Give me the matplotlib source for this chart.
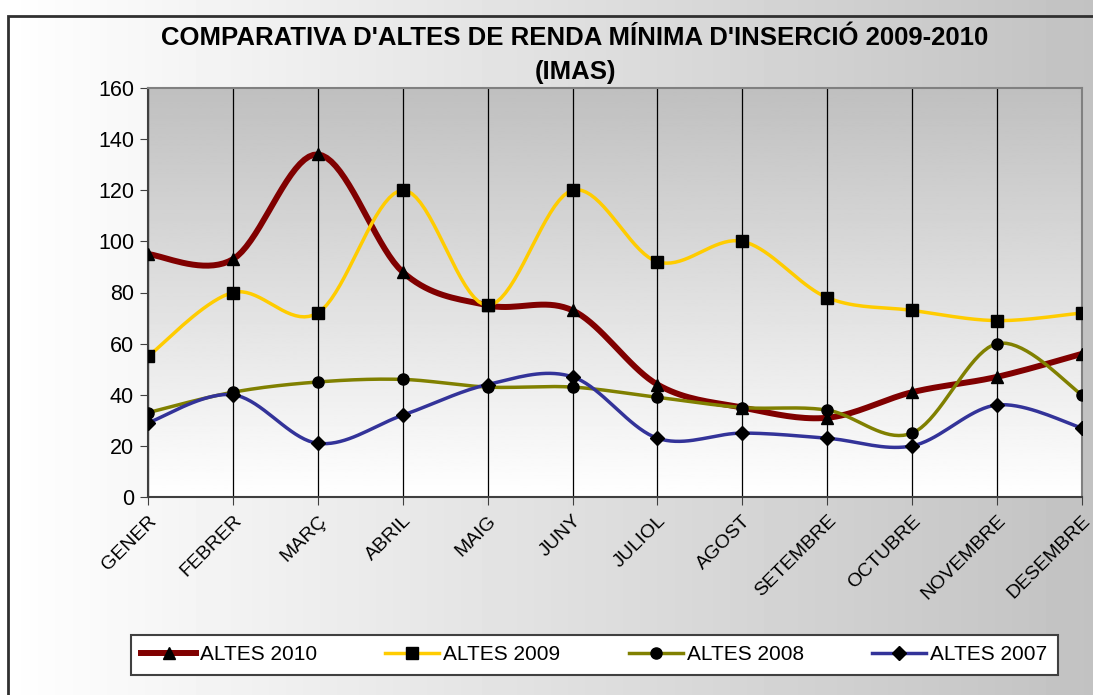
import numpy as np
import matplotlib.pyplot as plt
from matplotlib.patches import Rectangle

months = ['GENER', 'FEBRER', 'MARÇ', 'ABRIL', 'MAIG', 'JUNY', 'JULIOL',
          'AGOST', 'SETEMBRE', 'OCTUBRE', 'NOVEMBRE', 'DESEMBRE']
altes_2010 = [95, 93, 134, 88, 75, 73, 44, 35, 31, 41, 47, 56]
altes_2009 = [55, 80, 72, 120, 75, 120, 92, 100, 78, 73, 69, 72]
altes_2008 = [33, 41, 45, 46, 43, 43, 39, 35, 34, 25, 60, 40]
altes_2007 = [29, 40, 21, 32, 44, 47, 23, 25, 23, 20, 36, 27]

labels = ['ALTES 2010', 'ALTES 2009', 'ALTES 2008', 'ALTES 2007']
series = [altes_2010, altes_2009, altes_2008, altes_2007]
colors = ['#800000', '#FFCC00', '#808000', '#333399']
markers = ['^', 's', 'o', 'D']
widths = [4.3, 2.5, 2.5, 2.5]
msizes = [9, 8, 8, 7]

plt.rcParams['font.family'] = ['Liberation Sans', 'DejaVu Sans']


def smooth(xs, ys, n=20):
    # catmull-rom curve through the points, like excel's smoothed line
    p = np.column_stack([xs, ys]).astype(float)
    p = np.vstack([p[0], p, p[-1]])
    out = []
    t = np.linspace(0, 1, n)
    for i in range(1, len(p) - 2):
        p0, p1, p2, p3 = p[i - 1], p[i], p[i + 1], p[i + 2]
        m1 = (p2 - p0) / 2
        m2 = (p3 - p1) / 2
        h00 = 2 * t**3 - 3 * t**2 + 1
        h10 = t**3 - 2 * t**2 + t
        h01 = -2 * t**3 + 3 * t**2
        h11 = t**3 - t**2
        seg = (h00[:, None] * p1 + h10[:, None] * m1
               + h01[:, None] * p2 + h11[:, None] * m2)
        out.append(seg if i == 1 else seg[1:])
    out = np.vstack(out)
    return out[:, 0], out[:, 1]


fig = plt.figure(figsize=(10.93, 6.95), dpi=100)

# figure background: horizontal gradient white -> gray
bg = fig.add_axes([0, 0, 1, 1], zorder=-10)
grad = np.linspace(1.0, 0.76, 256)[None, :]
bg.imshow(grad, aspect='auto', cmap='gray', vmin=0, vmax=1,
          extent=[0, 1, 0, 1])
bg.set_xlim(0, 1)
bg.set_ylim(0, 1)
bg.axis('off')
bg.add_patch(Rectangle((8 / 1093, -0.1), 1.2, 1.1 - 16 / 695, fill=False,
                       edgecolor='#303030', linewidth=2))

ax = fig.add_axes([148 / 1093, 1 - 497 / 695, (1082 - 148) / 1093,
                   (497 - 88) / 695])
x = np.arange(len(months))

# plot area: vertical gradient gray (top) -> white (bottom)
vgrad = np.linspace(0.75, 1.0, 256)[:, None]
ax.imshow(vgrad, aspect='auto', cmap='gray', vmin=0, vmax=1,
          extent=[0, len(months) - 1, 0, 160], origin='upper', zorder=0)

for xi in x:
    ax.axvline(xi, color='black', linewidth=0.9, zorder=1)

for i in range(len(series)):
    sx, sy = smooth(x, series[i])
    ax.plot(sx, sy, color=colors[i], linewidth=widths[i], zorder=2 + i * 0.1,
            solid_capstyle='round')
    ax.plot(x, series[i], linestyle='none', marker=markers[i],
            markersize=msizes[i], color='black', zorder=3)
    # legend proxy
    ax.plot([], [], color=colors[i], linewidth=widths[i], marker=markers[i],
            markersize=msizes[i], markerfacecolor='black',
            markeredgecolor='black', label=labels[i])

ax.set_xlim(0, len(months) - 1)
ax.set_ylim(0, 160)
ax.set_yticks(range(0, 161, 20))
ax.set_xticks(x)
ax.set_xticklabels(months, rotation=45, ha='right', rotation_mode='anchor',
                   fontsize=14)
ax.tick_params(axis='y', labelsize=15.5, length=6, color='#404040', pad=4)
ax.tick_params(axis='x', length=6, color='#404040', pad=5)
for s in ['left', 'bottom']:
    ax.spines[s].set_color('#404040')
    ax.spines[s].set_linewidth(1.5)
for s in ['top', 'right']:
    ax.spines[s].set_color('#808080')
    ax.spines[s].set_linewidth(1.5)

fig.text(575 / 1093, 1 - 38 / 695,
         "COMPARATIVA D'ALTES DE RENDA MÍNIMA D'INSERCIÓ 2009-2010",
         ha='center', va='center', fontsize=18.5, fontweight='bold')
fig.text(575 / 1093, 1 - 72 / 695, '(IMAS)', ha='center', va='center',
         fontsize=18.5, fontweight='bold')

leg = fig.legend(loc='center', ncol=4, fontsize=15, frameon=True,
                 fancybox=False, bbox_to_anchor=(131 / 1093, 1 - 678 / 695,
                                                 (1058 - 131) / 1093, 46 / 695),
                 mode='expand', handlelength=2.6, borderpad=0.5,
                 handletextpad=0.2, borderaxespad=0)
leg.get_frame().set_edgecolor('#404040')
leg.get_frame().set_linewidth(1.5)
leg.get_frame().set_facecolor('white')
leg.get_frame().set_alpha(1)

plt.savefig('out.png', dpi=100)
